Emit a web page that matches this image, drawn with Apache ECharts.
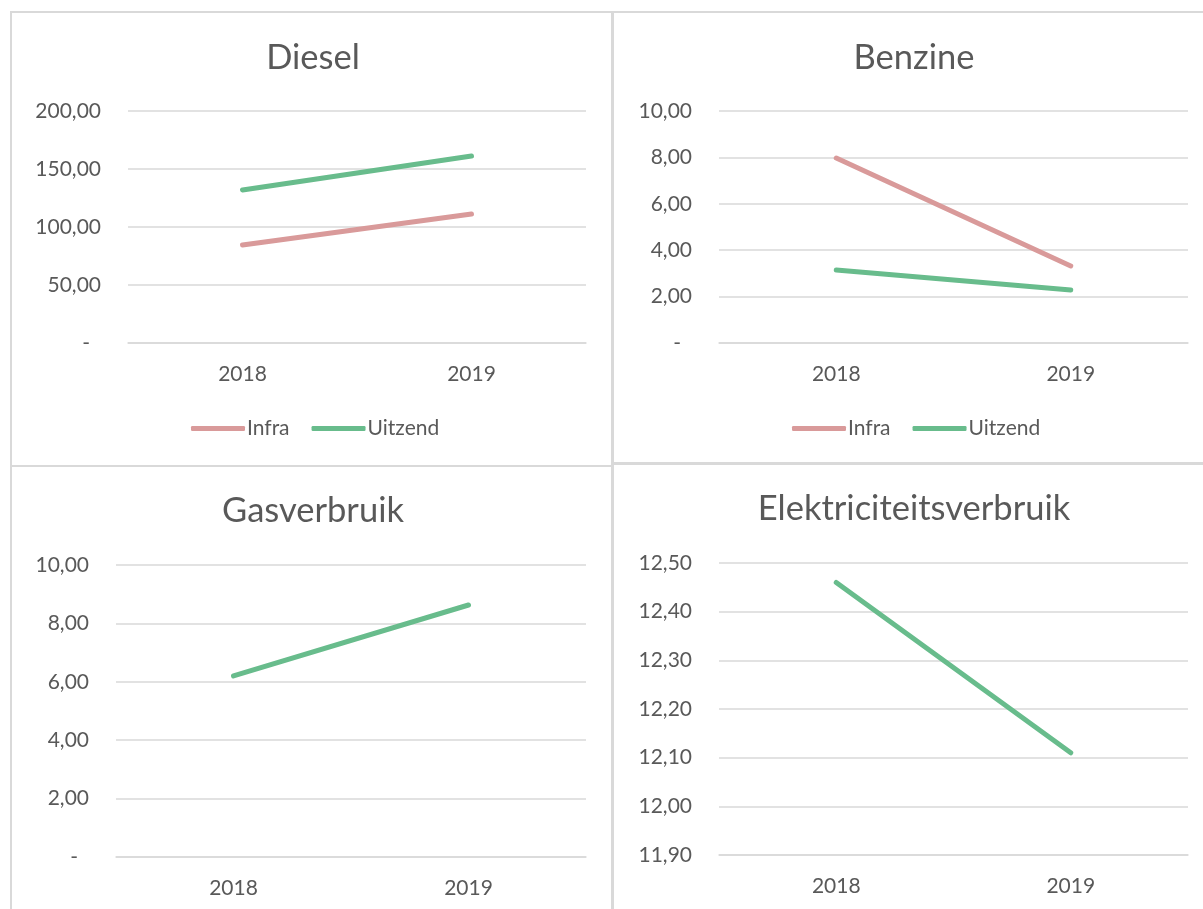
<!DOCTYPE html>
<html>
<head>
<meta charset="utf-8">
<script src="https://cdn.jsdelivr.net/npm/echarts@6/dist/echarts.min.js"></script>
<style>
html,body{margin:0;padding:0;background:#fff;}
#c{width:1203px;height:909px;}
</style>
</head>
<body>
<div id="c"></div>
<script>
const years = ['2018', '2019'];
const dieselInfra = [84.5, 111.2];
const dieselUitzend = [131.9, 161.2];
const benzineInfra = [7.97, 3.32];
const benzineUitzend = [3.15, 2.28];
const gasUitzend = [6.2, 8.63];
const elecUitzend = [12.46, 12.11];
const titles = ['Diesel', 'Benzine', 'Gasverbruik', 'Elektriciteitsverbruik'];

const FONT = 'Lato, "Open Sans", sans-serif';
const TXT = '#595959';
const GRIDC = '#d9d9d9';
const PINK = '#d99a9a';
const GREEN = '#68bc8c';

function fmt(v) {
  if (Math.abs(v) < 1e-9) return '{d|-}';
  return v.toFixed(2).replace('.', ',');
}

const grids = [
  {left: 128, right: 617, top: 111, bottom: 566},
  {left: 719, right: 15, top: 111, bottom: 566},
  {left: 116, right: 617, top: 565, bottom: 52},
  {left: 719, right: 15, top: 563, bottom: 54}
];
const yRanges = [
  {min: 0, max: 200, interval: 50},
  {min: 0, max: 10, interval: 2},
  {min: 0, max: 10, interval: 2},
  {min: 11.9, max: 12.5, interval: 0.1}
];

const xAxes = grids.map((g, i) => ({
  type: 'category', gridIndex: i, data: years, boundaryGap: true,
  axisLine: {show: true, lineStyle: {color: GRIDC, width: 1.5}},
  axisTick: {show: false},
  axisLabel: {color: TXT, fontFamily: FONT, fontSize: 21, margin: 21}
}));
const yAxes = yRanges.map((r, i) => ({
  type: 'value', gridIndex: i, min: r.min, max: r.max, interval: r.interval,
  axisLine: {show: false}, axisTick: {show: false},
  splitLine: {show: true, lineStyle: {color: GRIDC, width: 1.5}},
  axisLabel: {
    color: TXT, fontFamily: FONT, fontSize: 21, margin: 27,
    formatter: fmt,
    rich: {d: {color: TXT, fontFamily: FONT, fontSize: 21, padding: [0, 11, 0, 0]}}
  }
}));

function line(name, data, color, idx) {
  return {
    type: 'line', name: name, data: data, xAxisIndex: idx, yAxisIndex: idx,
    symbol: 'none', showSymbol: false, color: color,
    itemStyle: {color: color},
    lineStyle: {color: color, width: 5, cap: 'round', join: 'round'},
    silent: true, animation: false
  };
}

const series = [
  line('Infra', dieselInfra, PINK, 0),
  line('Uitzend', dieselUitzend, GREEN, 0),
  line('Infra', benzineInfra, PINK, 1),
  line('Uitzend', benzineUitzend, GREEN, 1),
  line('Uitzend', gasUitzend, GREEN, 2),
  line('Uitzend', elecUitzend, GREEN, 3)
];

const titleCenters = [[308, 35], [909, 35], [308, 488], [909, 486]];
const titleOpts = titles.map((t, i) => ({
  text: t, left: titleCenters[i][0], top: titleCenters[i][1], textAlign: 'center',
  textStyle: {color: TXT, fontFamily: FONT, fontSize: 34.5, fontWeight: 'normal'}
}));

function legend(left) {
  return {
    left: left, top: 413, data: ['Infra', 'Uitzend'],
    icon: 'roundRect', itemWidth: 54, itemHeight: 5,
    itemGap: 22, selectedMode: false,
    textStyle: {color: TXT, fontFamily: FONT, fontSize: 21, padding: [0, 0, 0, -3]}
  };
}

const panelRects = [
  [11, 12, 601, 454], [613, 12, 600, 452], [11, 466, 601, 450], [613, 463, 600, 450]
];

const chart = echarts.init(document.getElementById('c'), null, {renderer: 'canvas'});
chart.setOption({
  animation: false,
  backgroundColor: '#ffffff',
  graphic: panelRects.map(r => ({
    type: 'rect', shape: {x: r[0], y: r[1], width: r[2], height: r[3]},
    style: {fill: 'none', stroke: GRIDC, lineWidth: 2}, silent: true, z: -1
  })),
  title: titleOpts,
  legend: [legend(186), legend(787)],
  grid: grids,
  xAxis: xAxes,
  yAxis: yAxes,
  series: series
});
</script>
</body>
</html>
